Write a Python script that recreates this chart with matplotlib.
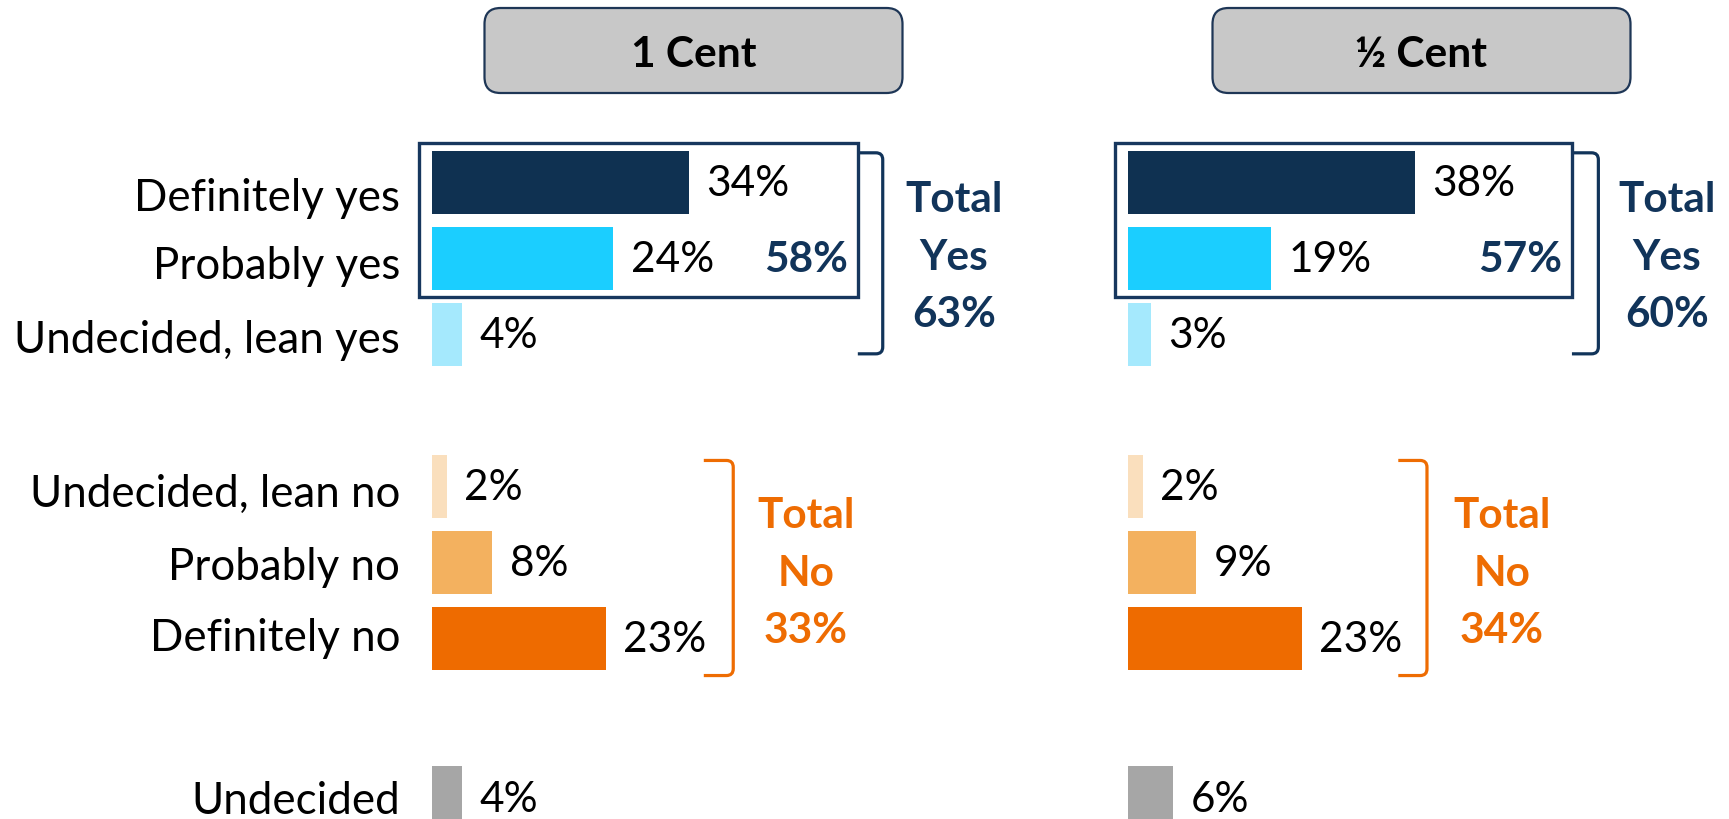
import matplotlib
matplotlib.use("Agg")
import matplotlib.pyplot as plt
from matplotlib.patches import Rectangle, FancyBboxPatch, PathPatch
from matplotlib.path import Path
from matplotlib.transforms import ScaledTranslation

plt.rcParams['font.family'] = ['Lato', 'DejaVu Sans']

# ---------------- data ----------------
categories = ['Definitely yes', 'Probably yes', 'Undecided, lean yes',
              'Undecided, lean no', 'Probably no', 'Definitely no', 'Undecided']
panel_titles = ['1 Cent', '\u00bd Cent']
values_1cent = [34, 24, 4, 2, 8, 23, 4]
values_half = [38, 19, 3, 2, 9, 23, 6]
box_totals = [58, 57]        # definitely + probably yes
total_yes = [63, 60]
total_no = [33, 34]

bar_colors = ['#0F3151', '#1BCEFF', '#A5E9FD', '#FADFBD', '#F3B15F', '#EE6B00', '#A6A6A6']
NAVY = '#11345A'
ORANGE = '#EE6C02'

# ---------------- layout ----------------
row_pos = [0, 1, 2, 4, 5, 6, 8.1]          # vertical slots (gaps between groups)
label_dy_px = [12, 4, 2, 4, 1.5, -3.5, 0]  # small per-label nudges seen in the original
W, H = 1729, 819
PX_PER_PCT = 7.55
ROW_PX = 76.0
ROW0_PX = 182.3
FS = 30.5
FS_LAB = 31.6
DY = 0.025   # small downward nudge for text (rows)

fig = plt.figure(figsize=(W / 100, H / 100), dpi=100)

# background axes in pixel units for the header boxes
bg = fig.add_axes([0, 0, 1, 1], zorder=0)
bg.set_xlim(0, W)
bg.set_ylim(H, 0)
bg.axis('off')

panels = [
    dict(x0=432, x1=1100, vals=values_1cent, box_right=56.4, br_yes=59.7,
         no_x0=36.0, no_x1=39.9, tot_yes_x=69.1, tot_no_x=49.5, head_cx=693.5),
    dict(x0=1128, x1=W, vals=values_half, box_right=58.8, br_yes=62.3,
         no_x0=35.8, no_x1=39.6, tot_yes_x=71.4, tot_no_x=49.5, head_cx=1421.5),
]

y_top = (0 - ROW0_PX) / ROW_PX
y_bot = (H - ROW0_PX) / ROW_PX


def bracket(ax, x0, x1, y0, y1, color):
    rx, ry = 0.9, 0.09
    verts = [(x0, y0), (x1 - rx, y0), (x1, y0), (x1, y0 + ry),
             (x1, y1 - ry), (x1, y1), (x1 - rx, y1), (x0, y1)]
    codes = [Path.MOVETO, Path.LINETO, Path.CURVE3, Path.CURVE3,
             Path.LINETO, Path.CURVE3, Path.CURVE3, Path.LINETO]
    ax.add_patch(PathPatch(Path(verts, codes), fill=False, edgecolor=color,
                           lw=2.3, clip_on=False, capstyle='butt', joinstyle='round'))


for i, p in enumerate(panels):
    ax = fig.add_axes([p['x0'] / W, 0, (p['x1'] - p['x0']) / W, 1], zorder=2)
    ax.set_xlim(0, (p['x1'] - p['x0']) / PX_PER_PCT)
    ax.set_ylim(y_bot, y_top)
    ax.patch.set_alpha(0)
    for s in ax.spines.values():
        s.set_visible(False)
    ax.set_xticks([])
    ax.set_yticks(row_pos)
    if i == 0:
        ax.set_yticklabels(categories, fontsize=FS_LAB)
        ax.tick_params(axis='y', length=0, pad=23)
        for lab, dpx in zip(ax.get_yticklabels(), label_dy_px):
            lab.set_transform(lab.get_transform()
                              + ScaledTranslation(0, -dpx / 100, fig.dpi_scale_trans))
    else:
        ax.set_yticklabels([])
        ax.tick_params(axis='y', length=0)

    ax.barh(row_pos, p['vals'], height=0.83, color=bar_colors, zorder=3)
    for y, v in zip(row_pos, p['vals']):
        ax.text(v + 2.3, y + DY, f'{v}%', fontsize=FS, va='center', ha='left', color='black')

    # box around definitely + probably yes
    ax.add_patch(Rectangle((-1.7, -0.52), p['box_right'] + 1.7, 2.027, fill=False,
                           edgecolor='#17375E', lw=2.4, clip_on=False, zorder=4))
    ax.text(p['box_right'] - 1.3, 1.0 + DY, f'{box_totals[i]}%', fontsize=FS, fontweight='bold',
            color=NAVY, ha='right', va='center')

    # yes bracket and total
    bracket(ax, p['box_right'], p['br_yes'], -0.388, 2.257, NAVY)
    for k, t in enumerate(['Total', 'Yes', f'{total_yes[i]}%']):
        ax.text(p['tot_yes_x'], 0.95 + 0.04 + (k - 1) * 0.757, t, fontsize=FS,
                fontweight='bold', color=NAVY, ha='center', va='center')

    # no bracket and total
    bracket(ax, p['no_x0'], p['no_x1'], 3.66, 6.49, ORANGE)
    for k, t in enumerate(['Total', 'No', f'{total_no[i]}%']):
        ax.text(p['tot_no_x'], 5.11 + 0.04 + (k - 1) * 0.757, t, fontsize=FS,
                fontweight='bold', color=ORANGE, ha='center', va='center')

    # header box
    bg.add_patch(FancyBboxPatch((p['head_cx'] - 209, 8), 418, 85,
                                boxstyle='round,pad=0,rounding_size=16',
                                facecolor='#C8C8C8', edgecolor='#1E3656', lw=1.6))
    bg.text(p['head_cx'], 55, panel_titles[i], fontsize=FS, fontweight='bold',
            ha='center', va='center', color='black')

fig.savefig('out.png', dpi=100)
